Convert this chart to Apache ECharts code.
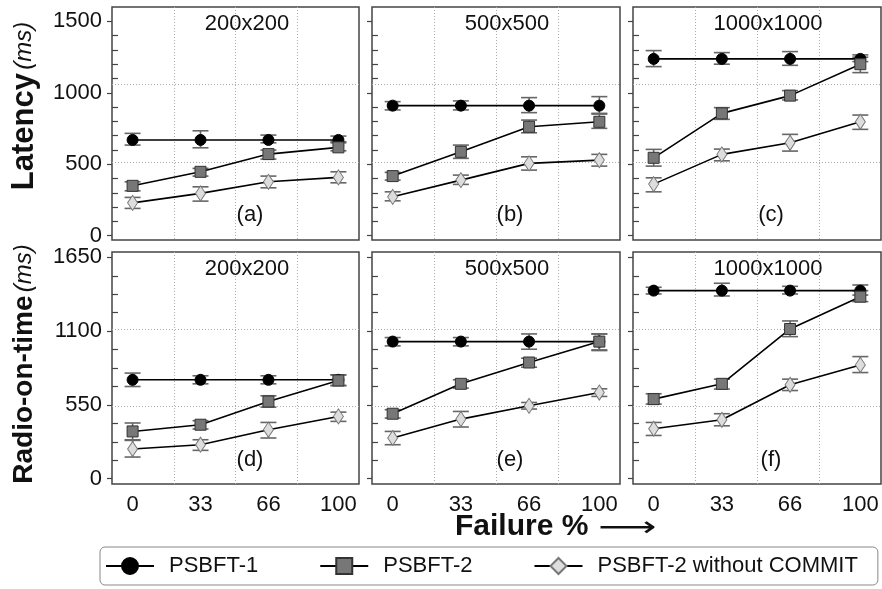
<!DOCTYPE html>
<html>
<head>
<meta charset="utf-8">
<title>PSBFT latency / radio-on-time</title>
<script src="https://cdn.jsdelivr.net/npm/echarts@6/dist/echarts.min.js"></script>
<style>
  html, body { margin: 0; padding: 0; background: #fff; }
  #chart { width: 882px; height: 589px; }
</style>
</head>
<body>
<div id="chart"></div>
<script>
// x axis: failure percentage
const failurePct = [0, 33, 66, 100]
const latencyTicks = [0, 500, 1000, 1500]
const latencyMinor = [100, 200, 300, 400, 600, 700, 800, 900, 1100, 1200, 1300, 1400]
const radioTicks = [0, 550, 1100, 1650]
const radioMinor = [137.5, 275, 412.5, 687.5, 825, 962.5, 1237.5, 1375, 1512.5]
const gridSizes = ['200x200', '500x500', '1000x1000']
const panelTags = ['(a)', '(b)', '(c)', '(d)', '(e)', '(f)']
const seriesNames = ['PSBFT-1', 'PSBFT-2', 'PSBFT-2 without COMMIT']

// each point: [mean, low, high]
// latency (ms)
const latA_psbft1 = [[670, 634, 716], [670, 615, 734], [670, 650, 704], [670, 657, 697]]
const latA_psbft2 = [[349, 314, 377], [447, 417, 471], [571, 536, 599], [618, 594, 650]]
const latA_noCommit = [[230, 191, 268], [296, 242, 342], [377, 335, 417], [408, 370, 447]]
const latB_psbft1 = [[910, 880, 938], [910, 880, 943], [910, 861, 966], [910, 851, 973]]
const latB_psbft2 = [[417, 389, 443], [587, 541, 634], [762, 720, 809], [797, 751, 856]]
const latB_noCommit = [[272, 244, 307], [389, 359, 424], [506, 459, 552], [529, 487, 569]]
const latC_psbft1 = [[1237, 1183, 1295], [1237, 1200, 1281], [1237, 1192, 1288], [1237, 1218, 1265]]
const latC_psbft2 = [[545, 487, 604], [856, 814, 896], [980, 950, 1015], [1200, 1141, 1249]]
const latC_noCommit = [[361, 307, 405], [569, 524, 606], [650, 592, 709], [797, 744, 844]]
// radio-on-time (ms)
const rotD_psbft1 = [[737, 687, 787], [737, 707, 767], [737, 707, 767], [737, 694, 774]]
const rotD_psbft2 = [[352, 290, 415], [402, 370, 432], [575, 533, 618], [732, 694, 774]]
const rotD_noCommit = [[221, 161, 285], [253, 211, 290], [365, 303, 419], [464, 427, 496]]
const rotE_psbft1 = [[1022, 990, 1052], [1022, 990, 1052], [1022, 965, 1079], [1022, 960, 1079]]
const rotE_psbft2 = [[484, 452, 514], [707, 675, 737], [866, 831, 898], [1022, 955, 1079]]
const rotE_noCommit = [[303, 253, 352], [444, 385, 501], [543, 519, 568], [642, 613, 670]]
const rotF_psbft1 = [[1402, 1377, 1427], [1402, 1362, 1457], [1402, 1377, 1434], [1402, 1369, 1444]]
const rotF_psbft2 = [[593, 556, 633], [707, 668, 742], [1116, 1059, 1176], [1357, 1320, 1402]]
const rotF_noCommit = [[372, 322, 419], [439, 394, 484], [700, 657, 742], [848, 791, 910]]

const panelData = [
  [latA_psbft1, latA_psbft2, latA_noCommit],
  [latB_psbft1, latB_psbft2, latB_noCommit],
  [latC_psbft1, latC_psbft2, latC_noCommit],
  [rotD_psbft1, rotD_psbft2, rotD_noCommit],
  [rotE_psbft1, rotE_psbft2, rotE_noCommit],
  [rotF_psbft1, rotF_psbft2, rotF_noCommit]
]

// 布局
const colLeft = [112, 372, 633]
const colWidth = [247, 248, 248]
const rowTop = [7, 252]
const rowHeight = [233, 232]
const rowRange = [[-30, 1600], [-40, 1690]]

const FONT = "'Liberation Sans', Arial, sans-serif"
const markerStyles = [
  { symbol: 'circle', symbolSize: 11, itemStyle: { color: '#000', borderColor: '#000', borderWidth: 1 } },
  { symbol: 'rect', symbolSize: 11, itemStyle: { color: '#777', borderColor: '#333', borderWidth: 1 } },
  { symbol: 'diamond', symbolSize: [10, 15], itemStyle: { color: '#ddd', borderColor: '#777', borderWidth: 1 } }
]

const renderErrorBar = (params, api) => {
  const x = api.value(0)
  const lo = api.coord([x, api.value(1)])
  const hi = api.coord([x, api.value(2)])
  const half = 8
  const style = { stroke: '#666', lineWidth: 1.6, fill: null }
  return {
    type: 'group',
    children: [
      { type: 'line', shape: { x1: lo[0], y1: lo[1], x2: hi[0], y2: hi[1] }, style },
      { type: 'line', shape: { x1: lo[0] - half, y1: lo[1], x2: lo[0] + half, y2: lo[1] }, style },
      { type: 'line', shape: { x1: hi[0] - half, y1: hi[1], x2: hi[0] + half, y2: hi[1] }, style }
    ]
  }
}

const grid = []
const xAxis = []
const yAxis = []
const series = []
const graphic = []
const dotted = { color: '#aaa', width: 1, type: [1, 2] }
const noLine = { show: false, onZero: false }
const plain = (v) => String(v)

panelData.forEach((panel, i) => {
  const row = Math.floor(i / 3)
  const col = i % 3
  grid.push({
    left: colLeft[col], top: rowTop[row], width: colWidth[col], height: rowHeight[row],
    show: true, borderColor: '#444', borderWidth: 1.5, backgroundColor: '#fff'
  })
  // x 主轴
  xAxis.push({
    type: 'value', gridIndex: i, position: 'bottom', min: -10, max: 110,
    axisLine: noLine,
    splitLine: { show: false },
    axisTick: { show: false },
    axisLabel: {
      show: row === 1, customValues: failurePct, margin: 10, formatter: plain,
      fontSize: 22, fontFamily: FONT, color: '#111'
    }
  })
  // x 网格线 (quarters)
  xAxis.push({
    type: 'value', gridIndex: i, position: 'bottom', min: 0, max: 4, interval: 1,
    axisLine: noLine, axisTick: { show: false }, axisLabel: { show: false },
    splitLine: { show: true, showMinLine: false, showMaxLine: false, lineStyle: dotted }
  })
  const [ymin, ymax] = rowRange[row]
  const ticks = row === 0 ? latencyTicks : radioTicks
  const minor = row === 0 ? latencyMinor : radioMinor
  // y 主轴
  yAxis.push({
    type: 'value', gridIndex: i, position: 'left', min: ymin, max: ymax,
    axisLine: noLine, splitLine: { show: false },
    axisTick: { show: true, customValues: ticks, length: 5, lineStyle: { color: '#444', width: 1.2 } },
    axisLabel: {
      show: col === 0, customValues: ticks, margin: 10, formatter: plain,
      fontSize: 22, fontFamily: FONT, color: '#111'
    }
  })
  // y 次刻度 (inside)
  yAxis.push({
    type: 'value', gridIndex: i, position: 'left', min: ymin, max: ymax,
    axisLine: noLine, splitLine: { show: false }, axisLabel: { show: false },
    axisTick: { show: true, inside: true, customValues: minor, length: 6, lineStyle: { color: '#444', width: 1.2 } }
  })
  // y 网格线 (thirds)
  yAxis.push({
    type: 'value', gridIndex: i, position: 'left', min: 0, max: 3, interval: 1,
    axisLine: noLine, axisTick: { show: false }, axisLabel: { show: false },
    splitLine: { show: true, showMinLine: false, showMaxLine: false, lineStyle: dotted }
  })

  panel.forEach((points) => {
    series.push({
      type: 'custom', xAxisIndex: i * 2, yAxisIndex: i * 3,
      renderItem: renderErrorBar, z: 2, silent: true,
      encode: { x: 0, y: [1, 2] },
      data: points.map((p, k) => [failurePct[k], p[1], p[2]])
    })
  })
  panel.forEach((points, s) => {
    series.push({
      type: 'line', name: seriesNames[s], xAxisIndex: i * 2, yAxisIndex: i * 3,
      ...markerStyles[s], z: 3 + s,
      lineStyle: { color: '#000', width: 1.6 },
      showAllSymbol: true,
      data: points.map((p, k) => [failurePct[k], p[0]])
    })
  })

  // panel title and tag
  graphic.push({
    type: 'text', x: colLeft[col] + 135, y: rowTop[row] + 17,
    style: { text: gridSizes[col], font: '22px ' + FONT, fill: '#111', align: 'center', verticalAlign: 'middle' }
  })
  graphic.push({
    type: 'text', x: colLeft[col] + 138, y: rowTop[row] + 208,
    style: { text: panelTags[i], font: '22px ' + FONT, fill: '#111', align: 'center', verticalAlign: 'middle' }
  })
})

const titleRich = (size) => ({
  b: { fontSize: size, fontWeight: 'bold', fontFamily: FONT, fill: '#111' },
  i: { fontSize: 24, fontStyle: 'italic', fontFamily: FONT, fill: '#111' }
})
graphic.push({
  type: 'text', x: 24, y: 106, rotation: Math.PI / 2,
  style: { text: '{b|Latency} {i|(ms)}', rich: titleRich(31), align: 'center', verticalAlign: 'middle' }
})
graphic.push({
  type: 'text', x: 24, y: 364, rotation: Math.PI / 2,
  style: { text: '{b|Radio-on-time} {i|(ms)}', rich: titleRich(28), align: 'center', verticalAlign: 'middle' }
})
graphic.push({
  type: 'text', x: 455, y: 527,
  style: { text: 'Failure %', font: 'bold 30px ' + FONT, fill: '#111', align: 'left', verticalAlign: 'middle' }
})
graphic.push({
  type: 'text', x: 598, y: 529, scaleX: 1.45,
  style: { text: '⟶', font: "28px 'DejaVu Sans', sans-serif", fill: '#111', align: 'left', verticalAlign: 'middle' }
})

const options = {
  backgroundColor: '#fff',
  animation: false,
  grid,
  xAxis,
  yAxis,
  series,
  graphic,
  // 图例
  legend: {
    data: seriesNames,
    left: 100, top: 547, width: 775,
    orient: 'horizontal',
    padding: [8, 20, 8, 5],
    itemWidth: 48, itemHeight: 20, itemGap: 61,
    borderColor: '#888', borderWidth: 1, borderRadius: 5,
    textStyle: { fontSize: 22, fontFamily: FONT, color: '#111', padding: [0, 0, 0, 10], lineHeight: 22 }
  }
}

const chart = echarts.init(document.getElementById('chart'), null, { renderer: 'canvas' })
chart.setOption(options)
</script>
</body>
</html>
